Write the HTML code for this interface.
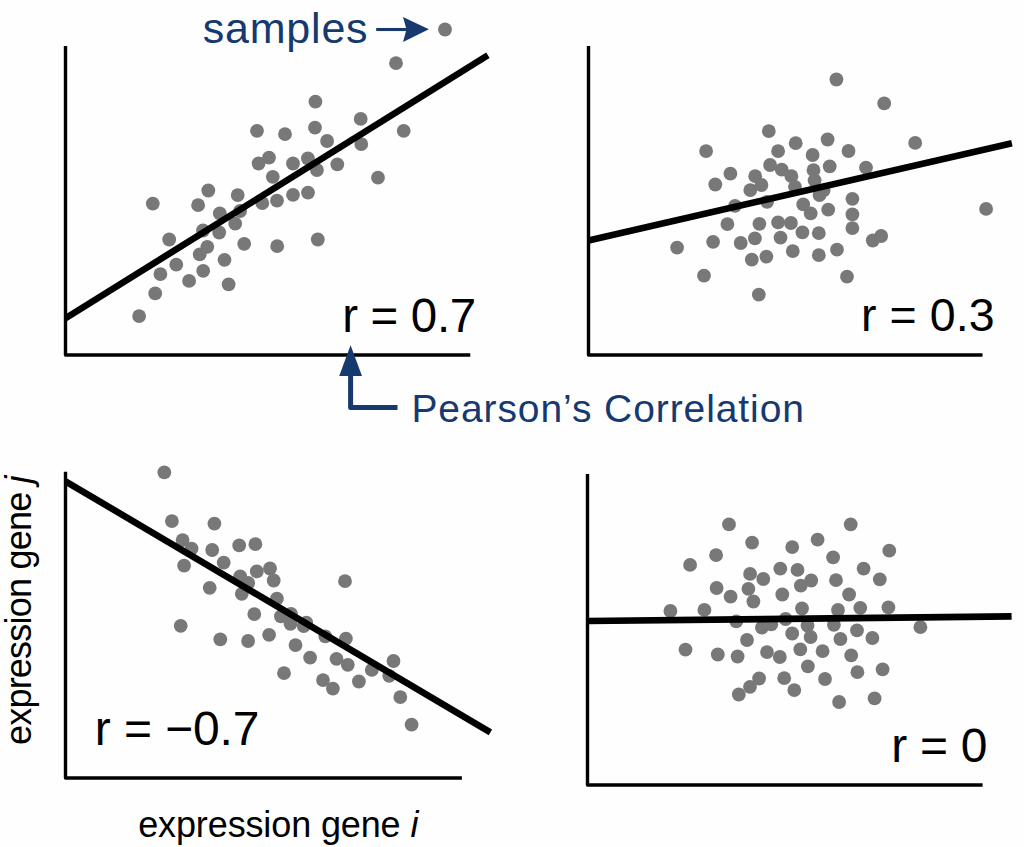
<!DOCTYPE html>
<html><head><meta charset="utf-8"><style>
html,body{margin:0;padding:0;background:#fefefe;}
body{width:1024px;height:847px;overflow:hidden;}
svg{display:block;}
</style></head><body>
<svg width="1024" height="847" viewBox="0 0 1024 847">
<rect width="1024" height="847" fill="#fefefe"/>
<g fill="#787878">
<circle cx="445" cy="29.5" r="6.9"/>
<circle cx="396" cy="63.2" r="6.9"/>
<circle cx="315.4" cy="101.7" r="6.9"/>
<circle cx="360.7" cy="118.9" r="6.9"/>
<circle cx="257" cy="130.8" r="6.9"/>
<circle cx="285" cy="134.2" r="6.9"/>
<circle cx="315" cy="127.7" r="6.9"/>
<circle cx="327.1" cy="141" r="6.9"/>
<circle cx="403.7" cy="130.8" r="6.9"/>
<circle cx="361.3" cy="144.1" r="6.9"/>
<circle cx="269" cy="157.6" r="6.9"/>
<circle cx="258.6" cy="163.5" r="6.9"/>
<circle cx="293" cy="163.5" r="6.9"/>
<circle cx="307.9" cy="158.5" r="6.9"/>
<circle cx="316.9" cy="170" r="6.9"/>
<circle cx="337.3" cy="164.3" r="6.9"/>
<circle cx="272.8" cy="176.8" r="6.9"/>
<circle cx="378" cy="177.7" r="6.9"/>
<circle cx="308" cy="192.6" r="6.9"/>
<circle cx="293" cy="194.8" r="6.9"/>
<circle cx="277" cy="200.7" r="6.9"/>
<circle cx="262.3" cy="203.2" r="6.9"/>
<circle cx="152.8" cy="203.6" r="6.9"/>
<circle cx="208.3" cy="190.5" r="6.9"/>
<circle cx="198.1" cy="205.2" r="6.9"/>
<circle cx="237.7" cy="195.1" r="6.9"/>
<circle cx="219.8" cy="213.4" r="6.9"/>
<circle cx="240.1" cy="211" r="6.9"/>
<circle cx="169.2" cy="239.5" r="6.9"/>
<circle cx="203" cy="230.5" r="6.9"/>
<circle cx="219.2" cy="232.5" r="6.9"/>
<circle cx="235.2" cy="223.7" r="6.9"/>
<circle cx="207.3" cy="246.8" r="6.9"/>
<circle cx="199.7" cy="254.4" r="6.9"/>
<circle cx="244.2" cy="243.8" r="6.9"/>
<circle cx="277.2" cy="246.2" r="6.9"/>
<circle cx="317.8" cy="239.5" r="6.9"/>
<circle cx="176.25" cy="264.7" r="6.9"/>
<circle cx="224.5" cy="259.8" r="6.9"/>
<circle cx="160.4" cy="274.1" r="6.9"/>
<circle cx="203.2" cy="270.8" r="6.9"/>
<circle cx="189.1" cy="280.9" r="6.9"/>
<circle cx="228.6" cy="284.3" r="6.9"/>
<circle cx="155.2" cy="293.4" r="6.9"/>
<circle cx="139.1" cy="316.1" r="6.9"/>
<circle cx="836.4" cy="79.5" r="6.9"/>
<circle cx="884.2" cy="103.4" r="6.9"/>
<circle cx="768.8" cy="131.1" r="6.9"/>
<circle cx="706.1" cy="151.1" r="6.9"/>
<circle cx="778.1" cy="151.2" r="6.9"/>
<circle cx="795.7" cy="143.2" r="6.9"/>
<circle cx="827.6" cy="139.5" r="6.9"/>
<circle cx="848.5" cy="151" r="6.9"/>
<circle cx="812.6" cy="155" r="6.9"/>
<circle cx="915.2" cy="142.9" r="6.9"/>
<circle cx="770.1" cy="165" r="6.9"/>
<circle cx="781.7" cy="169.7" r="6.9"/>
<circle cx="791.4" cy="176.2" r="6.9"/>
<circle cx="813.5" cy="170.2" r="6.9"/>
<circle cx="829.7" cy="166.3" r="6.9"/>
<circle cx="866" cy="167.6" r="6.9"/>
<circle cx="730.4" cy="173.7" r="6.9"/>
<circle cx="715.3" cy="184.5" r="6.9"/>
<circle cx="755.2" cy="176.2" r="6.9"/>
<circle cx="761.4" cy="185" r="6.9"/>
<circle cx="750.3" cy="190.1" r="6.9"/>
<circle cx="795" cy="186.8" r="6.9"/>
<circle cx="814.6" cy="180.3" r="6.9"/>
<circle cx="823.6" cy="190.3" r="6.9"/>
<circle cx="819.5" cy="195" r="6.9"/>
<circle cx="767.1" cy="201.8" r="6.9"/>
<circle cx="735" cy="205.8" r="6.9"/>
<circle cx="803.2" cy="204.4" r="6.9"/>
<circle cx="810.7" cy="213.4" r="6.9"/>
<circle cx="828.2" cy="209.6" r="6.9"/>
<circle cx="852.4" cy="198.8" r="6.9"/>
<circle cx="852.4" cy="214.4" r="6.9"/>
<circle cx="852.4" cy="228.1" r="6.9"/>
<circle cx="986.1" cy="208.9" r="6.9"/>
<circle cx="727.4" cy="224.1" r="6.9"/>
<circle cx="759.4" cy="223.8" r="6.9"/>
<circle cx="778.1" cy="222.4" r="6.9"/>
<circle cx="790.9" cy="223" r="6.9"/>
<circle cx="802.4" cy="232.4" r="6.9"/>
<circle cx="818.8" cy="233.2" r="6.9"/>
<circle cx="677.1" cy="247.6" r="6.9"/>
<circle cx="713.1" cy="241.8" r="6.9"/>
<circle cx="740.7" cy="243" r="6.9"/>
<circle cx="754.9" cy="238.4" r="6.9"/>
<circle cx="780.5" cy="237.6" r="6.9"/>
<circle cx="792.8" cy="251.1" r="6.9"/>
<circle cx="818.8" cy="255.2" r="6.9"/>
<circle cx="837" cy="249.7" r="6.9"/>
<circle cx="872.8" cy="240.5" r="6.9"/>
<circle cx="881.2" cy="236" r="6.9"/>
<circle cx="751.8" cy="259.7" r="6.9"/>
<circle cx="766.4" cy="256.6" r="6.9"/>
<circle cx="704" cy="275.7" r="6.9"/>
<circle cx="847" cy="276.7" r="6.9"/>
<circle cx="758.8" cy="294.6" r="6.9"/>
<circle cx="164.3" cy="472.3" r="6.9"/>
<circle cx="171.9" cy="521.1" r="6.9"/>
<circle cx="214.4" cy="523.6" r="6.9"/>
<circle cx="182.6" cy="540.1" r="6.9"/>
<circle cx="191.6" cy="548.6" r="6.9"/>
<circle cx="212.2" cy="550" r="6.9"/>
<circle cx="239.2" cy="545.4" r="6.9"/>
<circle cx="255.4" cy="544.2" r="6.9"/>
<circle cx="184.1" cy="565.6" r="6.9"/>
<circle cx="223.7" cy="562.6" r="6.9"/>
<circle cx="240.2" cy="576.3" r="6.9"/>
<circle cx="248.2" cy="583" r="6.9"/>
<circle cx="256.8" cy="571.4" r="6.9"/>
<circle cx="270" cy="568.5" r="6.9"/>
<circle cx="273.7" cy="580.5" r="6.9"/>
<circle cx="209.7" cy="587.8" r="6.9"/>
<circle cx="241.8" cy="593.8" r="6.9"/>
<circle cx="276.9" cy="598.7" r="6.9"/>
<circle cx="254.3" cy="614.1" r="6.9"/>
<circle cx="280.9" cy="616.4" r="6.9"/>
<circle cx="291" cy="613.8" r="6.9"/>
<circle cx="290.5" cy="623.8" r="6.9"/>
<circle cx="306.3" cy="622.7" r="6.9"/>
<circle cx="303.7" cy="626" r="6.9"/>
<circle cx="180.7" cy="625.8" r="6.9"/>
<circle cx="220.3" cy="639.3" r="6.9"/>
<circle cx="248.1" cy="641" r="6.9"/>
<circle cx="269.1" cy="634.8" r="6.9"/>
<circle cx="295.5" cy="645.1" r="6.9"/>
<circle cx="310.1" cy="657.6" r="6.9"/>
<circle cx="284" cy="673.2" r="6.9"/>
<circle cx="345" cy="581.2" r="6.9"/>
<circle cx="325.3" cy="636.3" r="6.9"/>
<circle cx="345.9" cy="638.6" r="6.9"/>
<circle cx="336.5" cy="658.8" r="6.9"/>
<circle cx="347.8" cy="664.8" r="6.9"/>
<circle cx="371.8" cy="669.9" r="6.9"/>
<circle cx="393.5" cy="661" r="6.9"/>
<circle cx="389.2" cy="675.8" r="6.9"/>
<circle cx="323" cy="680.1" r="6.9"/>
<circle cx="332.9" cy="688.6" r="6.9"/>
<circle cx="358.9" cy="681.5" r="6.9"/>
<circle cx="400.3" cy="697.1" r="6.9"/>
<circle cx="411.6" cy="724.7" r="6.9"/>
<circle cx="729" cy="524.4" r="6.9"/>
<circle cx="850.7" cy="524.3" r="6.9"/>
<circle cx="752.1" cy="542.6" r="6.9"/>
<circle cx="792.2" cy="547.1" r="6.9"/>
<circle cx="817.6" cy="539.7" r="6.9"/>
<circle cx="889.3" cy="550.7" r="6.9"/>
<circle cx="690.1" cy="564.9" r="6.9"/>
<circle cx="716.1" cy="555.2" r="6.9"/>
<circle cx="833.1" cy="557.4" r="6.9"/>
<circle cx="750.1" cy="573.9" r="6.9"/>
<circle cx="763.3" cy="579" r="6.9"/>
<circle cx="780.3" cy="568.6" r="6.9"/>
<circle cx="797.5" cy="569.9" r="6.9"/>
<circle cx="863.6" cy="568.6" r="6.9"/>
<circle cx="811.2" cy="580.5" r="6.9"/>
<circle cx="800.8" cy="585.6" r="6.9"/>
<circle cx="836" cy="580.2" r="6.9"/>
<circle cx="879.8" cy="579.3" r="6.9"/>
<circle cx="716.6" cy="588" r="6.9"/>
<circle cx="730.6" cy="596.7" r="6.9"/>
<circle cx="748.4" cy="588.8" r="6.9"/>
<circle cx="753.4" cy="601.5" r="6.9"/>
<circle cx="782.3" cy="594.5" r="6.9"/>
<circle cx="849.1" cy="594.5" r="6.9"/>
<circle cx="670.4" cy="611" r="6.9"/>
<circle cx="704.4" cy="609.9" r="6.9"/>
<circle cx="802" cy="608.5" r="6.9"/>
<circle cx="838" cy="610" r="6.9"/>
<circle cx="860.3" cy="607.8" r="6.9"/>
<circle cx="888.4" cy="607.4" r="6.9"/>
<circle cx="736.3" cy="621.3" r="6.9"/>
<circle cx="761.9" cy="627.7" r="6.9"/>
<circle cx="771.3" cy="624.3" r="6.9"/>
<circle cx="785.6" cy="619" r="6.9"/>
<circle cx="807.5" cy="625.6" r="6.9"/>
<circle cx="792.2" cy="633.5" r="6.9"/>
<circle cx="810.6" cy="637" r="6.9"/>
<circle cx="833.9" cy="624.8" r="6.9"/>
<circle cx="857" cy="630.3" r="6.9"/>
<circle cx="920.4" cy="627.2" r="6.9"/>
<circle cx="840.4" cy="639" r="6.9"/>
<circle cx="872.4" cy="638" r="6.9"/>
<circle cx="685.5" cy="649.6" r="6.9"/>
<circle cx="717.8" cy="654.5" r="6.9"/>
<circle cx="737.6" cy="656.5" r="6.9"/>
<circle cx="747" cy="640" r="6.9"/>
<circle cx="767" cy="652.1" r="6.9"/>
<circle cx="779.8" cy="657" r="6.9"/>
<circle cx="800.3" cy="649.3" r="6.9"/>
<circle cx="822.6" cy="651.2" r="6.9"/>
<circle cx="851.2" cy="655.4" r="6.9"/>
<circle cx="807.9" cy="666.3" r="6.9"/>
<circle cx="857.4" cy="672.2" r="6.9"/>
<circle cx="882.6" cy="669.4" r="6.9"/>
<circle cx="825" cy="679" r="6.9"/>
<circle cx="759.1" cy="678.5" r="6.9"/>
<circle cx="750" cy="686.8" r="6.9"/>
<circle cx="738.8" cy="694.5" r="6.9"/>
<circle cx="784.2" cy="678.2" r="6.9"/>
<circle cx="794.3" cy="690.1" r="6.9"/>
<circle cx="839.1" cy="702" r="6.9"/>
<circle cx="874.6" cy="698.3" r="6.9"/>
</g>
<g stroke="#000" stroke-width="3.4" fill="none" stroke-linecap="butt" stroke-linejoin="round">
<polyline points="65.5,46 65.5,355 470.3,355"/>
<polyline points="588.5,46 588.5,355 982.5,355"/>
<polyline points="65.5,471.7 65.5,778 461.9,778"/>
<polyline points="587.5,474 587.5,785 982.6,785"/>
</g>
<g stroke="#000" stroke-width="6.6" stroke-linecap="butt">
<line x1="65.5" y1="318.3" x2="487.9" y2="55.2"/>
<line x1="588.5" y1="240.5" x2="1011.9" y2="143.3"/>
<line x1="65.5" y1="481.3" x2="490.4" y2="732.3"/>
<line x1="587.5" y1="621" x2="1011.6" y2="616.4"/>
</g>
<g font-family="Liberation Sans, sans-serif" fill="#000">
<text x="342.2" y="332" font-size="47.5" textLength="134.0" lengthAdjust="spacing">r = 0.7</text>
<text x="861.0" y="331.3" font-size="46.5" textLength="133.6" lengthAdjust="spacing">r = 0.3</text>
<text x="94.8" y="745" font-size="48" textLength="164.6" lengthAdjust="spacing">r = −0.7</text>
<text x="891.2" y="761.5" font-size="48" textLength="96.2" lengthAdjust="spacing">r = 0</text>
<text x="138.2" y="836.9" font-size="36" textLength="280.2" lengthAdjust="spacing">expression gene <tspan font-style="italic">i</tspan></text>
<text transform="translate(31.3,745.0) rotate(-90)" font-size="36" textLength="269.6" lengthAdjust="spacing">expression gene <tspan font-style="italic">j</tspan></text>
</g>
<g fill="#16396f" font-family="Liberation Sans, sans-serif">
<text x="202.8" y="43" font-size="43" textLength="164.8" lengthAdjust="spacing">samples</text>
<text x="411.4" y="421.5" font-size="39" textLength="392.6" lengthAdjust="spacing">Pearson’s Correlation</text>
<path d="M403,16.9 L428.9,29.2 L403,42.1 L406.5,29.5 Z"/>
<path d="M339.2,376 L350.6,345.3 L362,376 Z"/>
</g>
<g stroke="#16396f" fill="none">
<line x1="376.2" y1="29.5" x2="407" y2="29.5" stroke-width="3.1"/>
<polyline points="350.6,374 350.6,407.5 397.5,407.5" stroke-width="5" stroke-linejoin="round"/>
</g>
</svg>
</body></html>
